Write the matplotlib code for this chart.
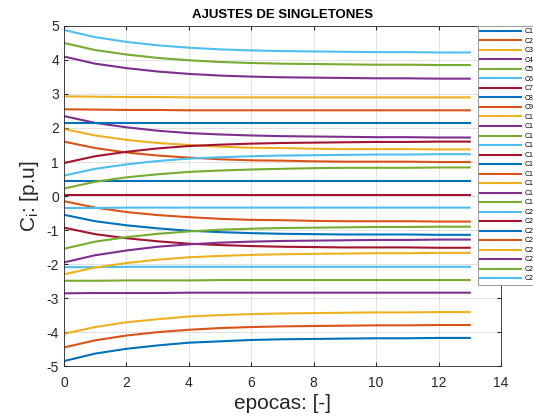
import matplotlib
matplotlib.use('Agg')
import matplotlib.pyplot as plt

plt.rcParams['font.family'] = ['Liberation Sans', 'DejaVu Sans']
plt.rcParams['axes.unicode_minus'] = False

epocas = list(range(14))

c1 = [-4.85, -4.63, -4.49, -4.39, -4.31, -4.27, -4.23, -4.21, -4.20, -4.19, -4.18, -4.18, -4.17, -4.17]
c2 = [-4.45, -4.24, -4.10, -4.00, -3.93, -3.88, -3.85, -3.83, -3.82, -3.81, -3.80, -3.80, -3.79, -3.79]
c3 = [-4.05, -3.85, -3.71, -3.62, -3.54, -3.50, -3.47, -3.45, -3.44, -3.43, -3.42, -3.42, -3.41, -3.41]
c4 = [-2.86, -2.85, -2.85, -2.85, -2.84, -2.84, -2.84, -2.84, -2.84, -2.84, -2.84, -2.84, -2.84, -2.84]
c5 = [-2.49, -2.49, -2.48, -2.48, -2.48, -2.47, -2.47, -2.47, -2.47, -2.47, -2.47, -2.47, -2.47, -2.47]
c6 = [-2.09, -2.09, -2.08, -2.08, -2.08, -2.08, -2.08, -2.08, -2.08, -2.08, -2.08, -2.08, -2.08, -2.08]
c7 = [-0.93, -1.12, -1.24, -1.33, -1.40, -1.44, -1.47, -1.49, -1.50, -1.51, -1.51, -1.51, -1.52, -1.52]
c8 = [-0.55, -0.74, -0.86, -0.95, -1.02, -1.06, -1.09, -1.11, -1.12, -1.13, -1.13, -1.13, -1.14, -1.14]
c9 = [-0.15, -0.34, -0.47, -0.56, -0.62, -0.67, -0.70, -0.71, -0.73, -0.74, -0.74, -0.74, -0.75, -0.75]
c10 = [-2.30, -2.10, -1.97, -1.87, -1.80, -1.76, -1.73, -1.71, -1.70, -1.69, -1.68, -1.68, -1.67, -1.67]
c11 = [-1.95, -1.74, -1.60, -1.49, -1.42, -1.37, -1.34, -1.32, -1.31, -1.30, -1.29, -1.29, -1.28, -1.28]
c12 = [-1.55, -1.34, -1.21, -1.11, -1.04, -0.99, -0.96, -0.94, -0.93, -0.92, -0.91, -0.91, -0.90, -0.90]
c13 = [-0.35, -0.35, -0.34, -0.34, -0.34, -0.34, -0.34, -0.34, -0.34, -0.34, -0.34, -0.34, -0.34, -0.34]
c14 = [0.04, 0.04, 0.04, 0.04, 0.04, 0.04, 0.04, 0.04, 0.04, 0.04, 0.04, 0.04, 0.04, 0.04]
c15 = [0.43, 0.43, 0.43, 0.43, 0.43, 0.43, 0.43, 0.43, 0.43, 0.43, 0.43, 0.43, 0.43, 0.43]
c16 = [1.60, 1.41, 1.28, 1.19, 1.13, 1.08, 1.05, 1.04, 1.02, 1.01, 1.01, 1.01, 1.00, 1.00]
c17 = [1.97, 1.78, 1.65, 1.56, 1.50, 1.45, 1.42, 1.41, 1.39, 1.38, 1.38, 1.38, 1.37, 1.37]
c18 = [2.35, 2.15, 2.02, 1.92, 1.85, 1.81, 1.78, 1.76, 1.75, 1.74, 1.73, 1.73, 1.72, 1.72]
c19 = [0.22, 0.42, 0.55, 0.64, 0.71, 0.75, 0.78, 0.80, 0.82, 0.83, 0.83, 0.83, 0.84, 0.84]
c20 = [0.60, 0.80, 0.93, 1.03, 1.10, 1.14, 1.17, 1.19, 1.20, 1.21, 1.22, 1.22, 1.23, 1.23]
c21 = [0.97, 1.17, 1.30, 1.40, 1.47, 1.51, 1.54, 1.56, 1.57, 1.58, 1.59, 1.59, 1.60, 1.60]
c22 = [2.15, 2.15, 2.15, 2.15, 2.15, 2.15, 2.15, 2.15, 2.15, 2.15, 2.15, 2.15, 2.15, 2.15]
c23 = [2.55, 2.54, 2.53, 2.53, 2.52, 2.52, 2.52, 2.52, 2.52, 2.52, 2.52, 2.52, 2.52, 2.52]
c24 = [2.93, 2.92, 2.91, 2.91, 2.90, 2.90, 2.90, 2.90, 2.90, 2.90, 2.90, 2.90, 2.90, 2.90]
c25 = [4.10, 3.89, 3.76, 3.66, 3.59, 3.54, 3.51, 3.49, 3.48, 3.47, 3.46, 3.46, 3.45, 3.45]
c26 = [4.50, 4.29, 4.16, 4.06, 3.99, 3.94, 3.91, 3.89, 3.88, 3.87, 3.86, 3.86, 3.85, 3.85]
c27 = [4.88, 4.67, 4.53, 4.43, 4.36, 4.31, 4.28, 4.26, 4.25, 4.24, 4.23, 4.23, 4.22, 4.22]

series = [c1, c2, c3, c4, c5, c6, c7, c8, c9, c10, c11, c12, c13, c14,
          c15, c16, c17, c18, c19, c20, c21, c22, c23, c24, c25, c26, c27]
labels = ['C{}'.format(i + 1) for i in range(len(series))]

# MATLAB default colour order
colores = ['#0072BD', '#D95319', '#EDB120', '#7E2F8E', '#77AC30', '#4DBEEE', '#A2142F']

fig = plt.figure(figsize=(5.33, 4.18), dpi=100)
ax = fig.add_axes([0.120, 0.124, 0.820, 0.814])

for i, ys in enumerate(series):
    ax.plot(epocas, ys, color=colores[i % len(colores)], linewidth=1.5, label=labels[i])

ax.set_xlim(0, 14)
ax.set_ylim(-5, 5)
ax.set_xticks(range(0, 15, 2))
ax.set_yticks(range(-5, 6))
ax.grid(True, color='#dcdcdc', linewidth=0.6)
ax.set_axisbelow(True)
ax.tick_params(direction='in', top=True, right=True, labelsize=10, colors='#262626', length=3)
ax.tick_params(axis='x', pad=7)
for s in ax.spines.values():
    s.set_color('#262626')
    s.set_linewidth(0.6)

ax.set_title('AJUSTES DE SINGLETONES', fontsize=9.5, fontweight='bold', pad=6)
ax.set_xlabel('epocas: [-]', fontsize=15, color='#262626', labelpad=3)
ax.set_ylabel(r'C$_\mathregular{i}$: [p.u]', fontsize=15, color='#262626', labelpad=4)

# legend sits over the right edge, labels get cut by the figure border as in the original
leg = ax.legend(loc='upper left', bbox_to_anchor=(478 / 533, 1 - 26 / 418),
                bbox_transform=fig.transFigure, fontsize=5, handlelength=5.9,
                labelspacing=0.36, handletextpad=0.45, borderpad=0.35,
                fancybox=False, framealpha=1, edgecolor='#a0a0a0', borderaxespad=0)
leg.get_frame().set_linewidth(0.8)

fig.savefig('out.png', dpi=100)
